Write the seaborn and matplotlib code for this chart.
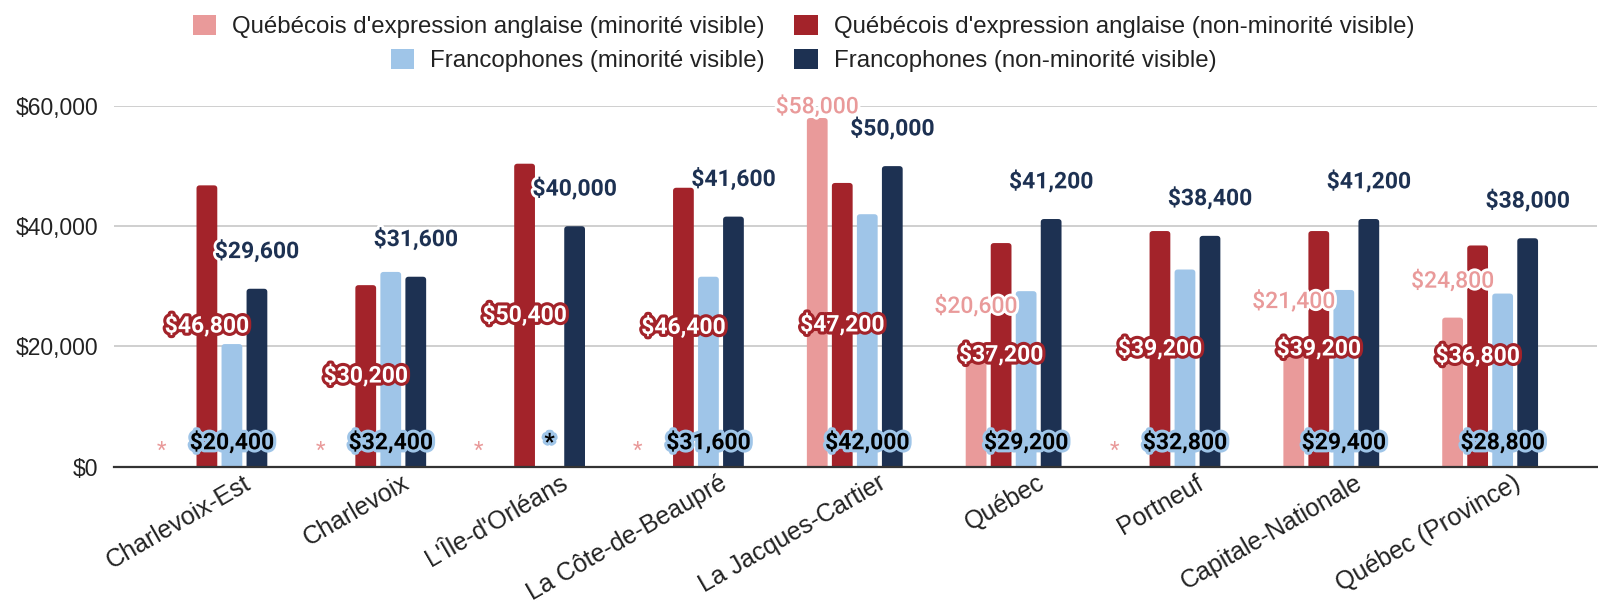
import numpy as np
import pandas as pd
import seaborn as sns
import matplotlib.pyplot as plt
import matplotlib.patheffects as pe
from matplotlib.patches import Patch, FancyBboxPatch
from matplotlib.ticker import FuncFormatter
from matplotlib.transforms import ScaledTranslation

# Données (NaN = donnée supprimée, affichée par « * »)
regions = ["Charlevoix-Est", "Charlevoix", "L'Île-d'Orléans", "La Côte-de-Beaupré",
           "La Jacques-Cartier", "Québec", "Portneuf", "Capitale-Nationale",
           "Québec (Province)"]
groups = ["Québécois d'expression anglaise (minorité visible)",
          "Québécois d'expression anglaise (non-minorité visible)",
          "Francophones (minorité visible)",
          "Francophones (non-minorité visible)"]
anglo_vm = [np.nan, np.nan, np.nan, np.nan, 58000, 20600, np.nan, 21400, 24800]
anglo_nvm = [46800, 30200, 50400, 46400, 47200, 37200, 39200, 39200, 36800]
franco_vm = [20400, 32400, np.nan, 31600, 42000, 29200, 32800, 29400, 28800]
franco_nvm = [29600, 31600, 40000, 41600, 50000, 41200, 38400, 41200, 38000]
yticks = [0, 20000, 40000, 60000]

colors = ["#E99A9A", "#A3232A", "#9FC5E8", "#1D3152"]
series = [anglo_vm, anglo_nvm, franco_vm, franco_nvm]

rows = []
for g, vals in zip(groups, series):
    for r, v in zip(regions, vals):
        rows.append({"region": r, "groupe": g, "revenu": v})
df = pd.DataFrame(rows)

sns.set_style("white")
plt.rcParams["font.family"] = ["Liberation Sans", "DejaVu Sans"]

fig = plt.figure(figsize=(15.98, 6.05), dpi=100)
ax = fig.add_axes([0.0713, 0.2286, 0.928, 0.5962])

bar_total = 0.63
sns.barplot(data=df, x="region", y="revenu", hue="groupe", order=regions,
            hue_order=groups, palette=colors, width=bar_total, gap=0.17,
            saturation=1, errorbar=None, legend=False, ax=ax, zorder=2)

ax.set_xlim(-0.664, 8.672)
ax.set_ylim(0, 60000)

# coins supérieurs arrondis (comme dans Google Sheets)
rad = 0.02
aspect = 520 / rad
for p in list(ax.patches):
    h = p.get_height()
    if not np.isfinite(h) or h <= 0:
        continue
    fb = FancyBboxPatch((p.get_x(), -800), p.get_width(), h + 800,
                        boxstyle=f"round,pad=0,rounding_size={rad}",
                        mutation_aspect=aspect, facecolor=p.get_facecolor(),
                        edgecolor="none", zorder=2)
    ax.add_patch(fb)
    p.set_visible(False)

ax.set_yticks(yticks)
ax.yaxis.set_major_formatter(FuncFormatter(lambda v, p: f"${v:,.0f}"))
ax.grid(axis="y", color="#cccccc", linewidth=1.3, zorder=0)
ax.set_axisbelow(True)
for s in ["top", "right", "left"]:
    ax.spines[s].set_visible(False)
ax.spines["bottom"].set_color("#333333")
ax.spines["bottom"].set_linewidth(1.6)
ax.spines["bottom"].set_zorder(3)
ax.tick_params(axis="both", length=0, labelsize=16.5, colors="#222222")
ax.tick_params(axis="y", pad=11)
ax.tick_params(axis="x", pad=3)
ax.set_xlabel("")
ax.set_ylabel("")

shift = ScaledTranslation(0.23, 0, fig.dpi_scale_trans)
for lab in ax.get_xticklabels():
    lab.set_rotation(30)
    lab.set_ha("right")
    lab.set_va("top")
    lab.set_rotation_mode("anchor")
    lab.set_fontsize(18)
    lab.set_transform(lab.get_transform() + shift)

# Étiquettes de données
lab_font = ["Roboto", "DejaVu Sans"]
bar_w = bar_total / len(groups)


def money(v):
    return f"${v:,.0f}"


for j, vals in enumerate(series):
    for i, v in enumerate(vals):
        x = i + (j - 1.5) * bar_w
        if j == 0:
            if np.isnan(v):
                ax.text(x - 0.13, 2500, "*", ha="center", va="center",
                        fontsize=16, color=colors[0], family=lab_font, zorder=5)
            else:
                ax.text(x, min(v + 6200, 60000), money(v), ha="center", va="center",
                        fontsize=16.5, fontweight="medium", color=colors[0],
                        family=lab_font, clip_on=False, zorder=5,
                        path_effects=[pe.withStroke(linewidth=4, foreground="white")])
        elif j == 1:
            ax.text(x, v / 2, money(v), ha="center", va="center", fontsize=16.5,
                    fontweight="bold", color="white", family=lab_font, zorder=6,
                    path_effects=[pe.withStroke(linewidth=4.5, foreground=colors[1])])
        elif j == 2:
            txt = "*" if np.isnan(v) else money(v)
            ax.text(x, 4000, txt, ha="center", va="center", fontsize=16.5,
                    fontweight="bold", color="black", family=lab_font, zorder=6,
                    path_effects=[pe.withStroke(linewidth=4.5, foreground=colors[2])])
        else:
            ax.text(x, v + 6200, money(v), ha="center", va="center", fontsize=16.5,
                    fontweight="bold", color=colors[3], family=lab_font, zorder=5,
                    clip_on=False,
                    path_effects=[pe.withStroke(linewidth=4, foreground="white")])

# Légende : deux colonnes, la première alignée à droite
handles = [Patch(facecolor=c, edgecolor="none") for c in colors]
order = [0, 2, 1, 3]
leg = fig.legend([handles[k] for k in order], [groups[k] for k in order], ncol=2,
                 loc="upper center", bbox_to_anchor=(0.5028, 1.003), frameon=False,
                 fontsize=17.3, handlelength=0.96, handleheight=0.9,
                 handletextpad=0.67, columnspacing=1.25, labelspacing=0.45,
                 borderpad=0.2)
for t in leg.get_texts():
    t.set_color("#222222")
leg._legend_handle_box.get_children()[0].align = "right"

fig.savefig("out.png", dpi=100)
